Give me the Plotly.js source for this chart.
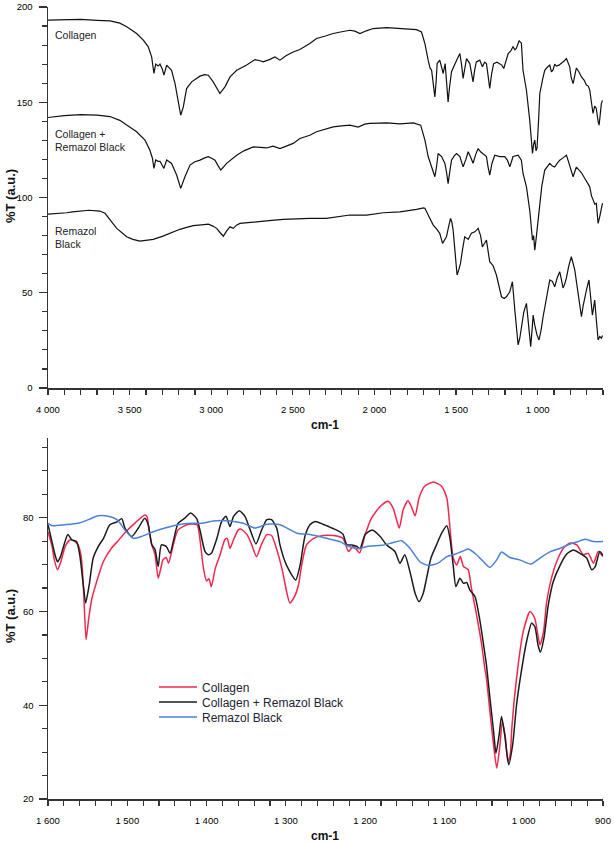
<!DOCTYPE html>
<html>
<head>
<meta charset="utf-8">
<script src="https://cdn.plot.ly/plotly-3.0.1.min.js"></script>
<style>
  html, body { margin: 0; padding: 0; background: #ffffff; }
  #chart { width: 614px; height: 843px; }
</style>
</head>
<body>
<div id="chart"></div>
<script>
// ---------- Top panel: full FTIR spectra (4000-600 cm-1) ----------
const topWavenumberCollagen = [4000,3900,3800,3700,3620,3560,3518,3457,3416,3386,3365,3351,3340,3325,3314,3300,3290,3273,3243,3222,3202,3187,3171,3151,3120,3089,3069,3040,3018,2988,2965,2947,2930,2916,2885,2844,2783,2732,2700,2682,2640,2610,2579,2540,2498,2457,2396,2355,2300,2253,2200,2151,2120,2089,2050,2008,1926,1844,1742,1712,1691,1671,1660,1650,1640,1630,1623,1616,1600,1590,1579,1567,1558,1549,1540,1528,1510,1497,1477,1467,1457,1446,1436,1416,1405,1396,1386,1376,1355,1339,1325,1314,1304,1294,1282,1270,1250,1233,1220,1208,1195,1181,1165,1151,1140,1131,1114,1100,1090,1069,1049,1040,1032,1025,1018,1010,1004,995,987,970,957,940,926,916,906,896,886,870,855,840,824,814,804,795,783,773,763,748,732,715,702,690,681,671,661,651,641,630,624,617,610,603];
const topCollagen = [193.1,193.3,193.5,193.0,192.7,191.5,189.6,186.1,182.6,179.1,173.8,165.1,170.0,169.0,170.0,167.5,164.2,169.5,166.8,159.9,151.1,143.2,147.6,157.2,160.7,162.5,163.7,164.5,164.2,160.7,157.5,154.6,156.5,158.1,163.3,166.8,169.5,172.4,171.8,171.2,172.5,173.8,172.1,174.5,176.4,177.7,180.8,183.5,184.8,186.1,187.0,187.8,187.3,186.1,187.5,188.7,189.2,188.7,188.1,186.9,180.8,172.1,168.0,166.8,160.0,152.8,160.0,170.3,172.1,168.5,165.1,170.3,162.0,150.2,158.0,166.0,169.5,172.1,175.6,170.0,162.5,168.0,172.9,170.3,165.0,160.7,167.0,171.2,172.1,168.6,171.0,170.3,164.0,157.2,165.0,170.3,171.0,170.3,169.5,167.7,171.5,175.6,177.0,179.1,177.5,178.3,182.2,181.0,166.8,156.3,140.6,132.0,123.1,128.0,130.1,124.5,126.0,140.0,154.6,162.0,166.8,168.5,169.5,166.0,167.0,170.0,169.0,169.5,170.3,171.5,172.9,170.5,168.6,163.0,159.8,164.0,168.0,166.0,163.3,161.5,159.0,158.5,156.3,150.0,144.1,148.0,146.7,140.0,138.0,143.5,149.4,151.0];

const topWavenumberMix = [4000,3900,3800,3700,3620,3560,3518,3457,3406,3376,3360,3351,3340,3325,3314,3300,3290,3273,3243,3212,3187,3161,3130,3100,3069,3040,3018,2995,2977,2960,2942,2925,2906,2844,2800,2742,2700,2661,2621,2579,2540,2498,2457,2396,2355,2300,2253,2200,2151,2100,2060,2028,1926,1844,1763,1717,1691,1671,1650,1640,1630,1620,1610,1589,1569,1558,1549,1538,1528,1510,1497,1477,1457,1440,1426,1410,1396,1380,1365,1350,1335,1314,1304,1294,1280,1263,1233,1202,1185,1171,1160,1151,1120,1100,1090,1069,1049,1040,1032,1025,1018,1010,1004,995,987,975,957,940,926,910,896,880,865,845,824,814,804,795,783,773,763,748,732,715,702,690,681,671,661,650,641,630,620,610,603];
const topMix = [142.0,143.0,143.5,143.2,142.5,140.5,138.0,134.5,130.1,124.9,120.5,115.3,119.7,119.0,119.0,117.0,115.3,119.7,117.9,111.8,104.8,110.9,117.0,118.8,119.6,120.8,121.4,120.5,119.6,117.0,114.4,116.0,117.9,122.2,124.5,126.6,126.3,126.0,127.0,125.7,127.0,128.4,131.0,132.7,134.5,135.8,137.1,137.6,138.0,137.0,138.5,138.9,139.2,138.6,139.2,138.0,130.1,121.5,116.1,114.0,110.9,116.0,123.1,121.5,118.0,113.0,107.3,114.0,119.6,122.0,123.1,121.5,116.1,120.0,124.0,121.0,118.0,122.5,125.7,124.0,123.1,121.5,116.0,111.8,118.0,122.2,121.5,121.5,119.5,116.1,119.0,121.5,122.2,119.6,112.6,105.6,93.4,85.0,77.6,80.0,72.4,78.0,82.9,90.0,95.1,106.0,114.4,116.5,117.9,116.5,116.0,118.0,119.6,120.8,122.2,119.5,117.0,114.0,110.9,113.5,116.0,114.5,113.0,110.5,108.3,107.0,105.6,101.0,98.6,96.5,97.0,86.4,90.0,95.1,97.0];

const topWavenumberDye = [4000,3950,3886,3850,3784,3750,3700,3682,3651,3620,3579,3518,3480,3437,3400,3355,3300,3273,3230,3192,3150,3110,3060,3018,2990,2967,2945,2926,2905,2885,2865,2845,2824,2760,2702,2630,2559,2480,2396,2294,2220,2151,2048,1947,1844,1790,1742,1700,1691,1671,1655,1640,1620,1600,1583,1570,1559,1545,1534,1526,1518,1505,1494,1484,1473,1460,1447,1426,1406,1385,1365,1350,1339,1325,1314,1294,1273,1253,1238,1222,1205,1192,1171,1155,1140,1128,1120,1110,1100,1085,1069,1055,1043,1035,1028,1018,1005,992,980,967,945,926,910,896,880,865,855,845,835,824,810,794,785,773,763,753,742,732,722,712,700,686,675,665,658,651,640,630,620,610,603];
const topDye = [91.3,91.5,92.0,92.5,92.9,93.3,93.0,92.9,91.7,88.1,83.8,79.4,78.0,77.1,77.4,78.0,79.6,80.6,82.0,83.3,84.3,85.2,85.6,86.0,85.0,83.8,81.5,79.7,82.5,84.6,83.8,85.5,86.4,86.8,87.3,88.0,88.5,88.8,89.0,89.0,90.0,90.8,90.8,92.0,92.5,93.0,93.8,94.5,94.3,90.8,88.0,85.5,83.5,81.2,75.9,78.0,79.4,85.0,89.0,87.0,82.9,70.0,59.3,62.0,65.4,73.0,79.4,78.0,81.2,82.0,83.8,80.0,74.1,76.0,77.6,66.3,64.2,59.3,53.0,47.9,47.0,47.9,50.5,55.8,40.9,28.0,22.6,26.0,32.0,40.0,44.4,33.0,21.7,30.0,38.3,33.0,28.0,25.2,30.0,37.4,48.0,56.7,56.0,53.1,58.0,61.0,57.0,52.5,54.5,57.8,64.0,68.9,66.0,62.0,56.0,49.7,42.0,37.4,43.0,48.0,52.0,56.7,48.0,38.3,42.0,46.2,35.0,25.2,27.0,26.1,27.5];

const topXTickVals = [4000,3500,3000,2500,2000,1500,1000];
const topXTickText = ['4 000','3 500','3 000','2 500','2 000','1 500','1 000'];
const topYTickVals = [0,50,100,150,200];

// ---------- Bottom panel: fingerprint region (1600-900 cm-1) ----------
const seriesNames = ['Collagen','Collagen + Remazol Black','Remazol Black'];

const wnCollagen = [1600,1595,1592,1588,1584,1578,1572,1567,1562,1558,1555,1552,1549,1545,1541,1536,1530,1520,1512,1503,1490,1478,1475,1473,1469,1465,1461,1458,1455,1451,1448,1442,1436,1423,1412,1408,1404,1400,1397,1394,1389,1383,1377,1374,1370.5,1366,1360,1357,1349,1343,1337,1331,1324,1318,1312,1305,1299,1295,1289,1284,1280,1274,1265,1253,1240,1228,1221,1215,1207,1200,1192,1181,1171,1164.6,1157,1152,1146,1142,1137,1132,1125,1114,1103.5,1097,1093,1089,1084.6,1080,1076,1070,1066,1059.5,1053,1049,1047,1042.6,1038,1034,1030,1027,1023,1020,1017,1015,1009,1000.6,992,986,979.5,975,971,965,958.5,950,941.6,933,925,918.6,912,906,900];
const tCollagen = [77.0,74.0,71.0,68.9,70.5,74.0,75.3,75.0,74.2,71.5,64.0,54.0,58.0,62.5,65.0,67.8,70.7,73.5,75.0,76.8,78.9,80.6,80.2,77.8,74.2,72.1,67.1,69.0,71.0,71.5,70.3,74.2,77.4,78.6,78.5,74.9,69.3,66.5,67.0,65.3,69.2,72.1,75.3,75.6,73.5,75.3,77.4,77.6,76.4,74.2,71.7,74.2,76.4,76.2,73.5,69.2,64.2,61.8,63.2,65.7,69.9,74.2,75.6,76.2,76.2,75.6,72.8,73.9,72.5,76.4,79.9,82.4,83.5,82.0,77.8,81.7,83.6,82.5,80.4,84.2,86.7,87.6,86.7,84.2,77.8,71.4,69.9,71.7,69.6,68.9,65.0,59.3,52.9,47.8,45.8,38.6,31.5,26.6,31.5,36.5,33.0,28.0,29.5,35.1,45.8,55.7,60.0,58.5,52.9,55.7,62.1,67.1,70.6,73.5,74.6,74.2,72.1,72.4,70.3,72.8,71.7];

const wnMix = [1600,1595,1591,1588,1584,1581,1575,1570,1564,1560,1555.5,1552.5,1548,1543,1536.5,1530,1522,1513,1507,1503,1494.5,1486,1478,1473.5,1469,1465,1461,1457,1451,1446,1442,1436,1427.5,1420,1412.5,1408,1402,1398,1394,1387,1381,1375.5,1370.5,1366,1358.7,1351.6,1345,1337.7,1330.5,1324,1318,1311.6,1307.4,1301,1295,1287.6,1282,1276,1269.6,1263,1253,1242,1234,1228,1223,1217,1211,1206.5,1200,1191,1181,1173,1162.5,1156,1150,1143.5,1137,1132,1126.7,1122.5,1117,1110,1103.5,1097,1093,1089,1085.5,1080.5,1076,1072,1068,1061.5,1055,1049,1047,1042.6,1038,1035,1031,1028,1024,1019,1014,1009,1003,996.4,990,986,982,979,974.5,969,962.7,954,946,937.5,929,920.6,914.3,910,904,900];
const tMix = [78.5,74.9,72.0,70.6,71.8,73.5,76.4,75.3,74.9,72.1,65.7,61.8,65.7,71.4,73.9,75.6,78.5,79.1,79.8,77.8,76.0,77.8,79.9,78.5,74.2,73.2,69.6,74.2,73.9,72.4,74.9,78.8,79.9,81.0,79.8,77.1,72.8,72.1,72.4,75.6,79.2,80.3,78.1,80.3,81.5,80.3,77.4,74.4,77.4,79.6,79.6,77.8,74.2,70.6,68.5,66.7,69.9,76.0,78.5,79.2,78.6,77.8,77.2,76.5,74.2,74.2,73.9,73.4,76.4,77.4,76.0,74.2,72.8,70.3,72.1,68.5,63.9,62.1,63.9,67.1,71.4,74.2,76.7,78.3,75.6,69.9,65.3,67.1,66.0,66.2,64.6,63.2,57.8,51.0,48.6,41.5,34.4,29.8,33.7,37.6,33.7,27.3,31.5,40.1,47.2,53.6,57.5,56.8,52.9,51.3,54.3,61.4,66.4,69.9,72.2,73.1,72.4,71.4,68.9,69.5,72.8,71.9];

const wnDye = [1600,1595,1578.6,1562,1549,1536.6,1524,1513,1503,1492.5,1482,1469,1452.5,1436,1419,1406,1391.6,1370.5,1353.7,1339,1324,1307.4,1286,1269.6,1248.5,1231.6,1221,1208.7,1196,1179,1166.6,1154,1143.5,1131,1120,1108,1097,1086.7,1078,1070,1059.5,1049,1042.6,1034,1028,1017.4,1005,991,979.5,967,954,941.6,933,922.8,912,900];
const tDye = [78.8,78.3,78.5,78.8,79.6,80.4,80.3,79.6,77.4,75.6,76.0,76.9,77.8,78.5,78.8,78.8,79.3,79.3,78.8,77.8,78.6,78.5,76.7,76.4,75.6,74.9,73.9,73.4,73.9,74.1,74.6,75.1,73.5,70.6,69.8,70.3,71.7,72.2,72.8,73.3,72.1,70.3,69.4,71.0,72.7,71.5,71.0,70.1,71.4,72.7,73.5,74.4,74.8,75.4,74.9,74.9];

const botXTickVals = [1600,1500,1400,1300,1200,1100,1000,900];
const botXTickText = ['1 600','1 500','1 400','1 300','1 200','1 100','1 000','900'];
const botYTickVals = [20,40,60,80];

// ---------- layout helpers (pixel -> paper) ----------
const W = 614, H = 843;
const px = v => v / W;
const py = v => 1 - v / H;

const TICKFONT = {family: 'Liberation Sans, Arial, sans-serif', size: 9.5, color: '#000'};
const colors = {collagen: '#f0284e', mix: '#1b1b1b', dye: '#4a80d8'};

const traces = [
  {x: topWavenumberCollagen, y: topCollagen, xaxis: 'x', yaxis: 'y', mode: 'lines', line: {color: '#111', width: 1.2}, showlegend: false},
  {x: topWavenumberMix, y: topMix, xaxis: 'x', yaxis: 'y', mode: 'lines', line: {color: '#111', width: 1.2}, showlegend: false},
  {x: topWavenumberDye, y: topDye, xaxis: 'x', yaxis: 'y', mode: 'lines', line: {color: '#111', width: 1.2}, showlegend: false},
  {x: wnCollagen, y: tCollagen, xaxis: 'x2', yaxis: 'y2', mode: 'lines', name: seriesNames[0], legend: 'legend', line: {color: colors.collagen, width: 1.5, shape: 'spline', smoothing: 0.6}},
  {x: wnMix, y: tMix, xaxis: 'x2', yaxis: 'y2', mode: 'lines', name: seriesNames[1], legend: 'legend2', line: {color: colors.mix, width: 1.5, shape: 'spline', smoothing: 0.6}},
  {x: wnDye, y: tDye, xaxis: 'x2', yaxis: 'y2', mode: 'lines', name: seriesNames[2], legend: 'legend3', line: {color: colors.dye, width: 1.5, shape: 'spline', smoothing: 0.6}}
];

function axisBase() {
  return {
    showgrid: false, zeroline: false, showline: true, linecolor: '#333', linewidth: 1.5,
    ticks: 'outside', tickcolor: '#333', tickwidth: 1.2, tickfont: TICKFONT, fixedrange: true
  };
}

const legendCommon = {
  xanchor: 'left', yanchor: 'middle', bgcolor: 'rgba(0,0,0,0)', borderwidth: 0,
  font: {family: 'Liberation Sans, Arial, sans-serif', size: 12, color: '#1c2533'},
  itemwidth: 38
};

const annFont = {family: 'Liberation Sans, Arial, sans-serif', size: 10.5, color: '#222'};
const titleFont = {family: 'Liberation Sans, Arial, sans-serif', size: 13, color: '#111', weight: 'bold'};

const layout = {
  width: W, height: H,
  margin: {l: 0, r: 0, t: 0, b: 0},
  paper_bgcolor: '#fff', plot_bgcolor: '#fff',
  xaxis: Object.assign(axisBase(), {
    domain: [px(48), px(603)], range: [4000, 600], anchor: 'y',
    tickmode: 'array', tickvals: topXTickVals, ticktext: topXTickText, ticklen: 5, ticklabelstandoff: 7,
    minor: {tickmode: 'linear', tick0: 0, dtick: 100, ticks: 'outside', ticklen: 5, tickcolor: '#333', tickwidth: 1.2}
  }),
  yaxis: Object.assign(axisBase(), {
    domain: [py(388), py(7)], range: [0, 200], anchor: 'x',
    tickmode: 'array', tickvals: topYTickVals, ticklen: 8, ticklabelstandoff: 4,
    minor: {tickmode: 'linear', tick0: 0, dtick: 10, ticks: 'outside', ticklen: 5, tickcolor: '#333', tickwidth: 1.2}
  }),
  xaxis2: Object.assign(axisBase(), {
    domain: [px(48), px(603)], range: [1600, 900], anchor: 'y2',
    tickmode: 'array', tickvals: botXTickVals, ticktext: botXTickText, ticklen: 5, ticklabelstandoff: 7,
    minor: {tickmode: 'linear', tick0: 0, dtick: 20, ticks: 'outside', ticklen: 5, tickcolor: '#333', tickwidth: 1.2}
  }),
  yaxis2: Object.assign(axisBase(), {
    domain: [py(799), py(438)], range: [20, 97], anchor: 'x2',
    tickmode: 'array', tickvals: botYTickVals, ticklen: 8, ticklabelstandoff: 3,
    minor: {tickmode: 'linear', tick0: 0, dtick: 5, ticks: 'outside', ticklen: 5, tickcolor: '#333', tickwidth: 1.2}
  }),
  legend: Object.assign({}, legendCommon, {x: px(154), y: py(687)}),
  legend2: Object.assign({}, legendCommon, {x: px(154), y: py(702)}),
  legend3: Object.assign({}, legendCommon, {x: px(154), y: py(717)}),
  annotations: [
    {text: 'Collagen', x: px(53), y: py(35), xref: 'paper', yref: 'paper', xanchor: 'left', yanchor: 'middle', showarrow: false, font: annFont},
    {text: 'Collagen +', x: px(53), y: py(134), xref: 'paper', yref: 'paper', xanchor: 'left', yanchor: 'middle', showarrow: false, font: annFont},
    {text: 'Remazol Black', x: px(53), y: py(147), xref: 'paper', yref: 'paper', xanchor: 'left', yanchor: 'middle', showarrow: false, font: annFont},
    {text: 'Remazol', x: px(53), y: py(231), xref: 'paper', yref: 'paper', xanchor: 'left', yanchor: 'middle', showarrow: false, font: annFont},
    {text: 'Black', x: px(53), y: py(244), xref: 'paper', yref: 'paper', xanchor: 'left', yanchor: 'middle', showarrow: false, font: annFont},
    {text: 'cm-1', x: px(325), y: py(425), xref: 'paper', yref: 'paper', xanchor: 'center', yanchor: 'middle', showarrow: false, font: {family: titleFont.family, size: 12, color: '#111', weight: 'bold'}},
    {text: 'cm-1', x: px(325), y: py(836), xref: 'paper', yref: 'paper', xanchor: 'center', yanchor: 'middle', showarrow: false, font: {family: titleFont.family, size: 12, color: '#111', weight: 'bold'}},
    {text: '%T (a.u.)', x: px(10), y: py(196), xref: 'paper', yref: 'paper', xanchor: 'center', yanchor: 'middle', textangle: -90, showarrow: false, font: titleFont},
    {text: '%T (a.u.)', x: px(10), y: py(616), xref: 'paper', yref: 'paper', xanchor: 'center', yanchor: 'middle', textangle: -90, showarrow: false, font: titleFont}
  ]
};

Plotly.newPlot('chart', traces, layout, {displayModeBar: false, staticPlot: true});
</script>
</body>
</html>
